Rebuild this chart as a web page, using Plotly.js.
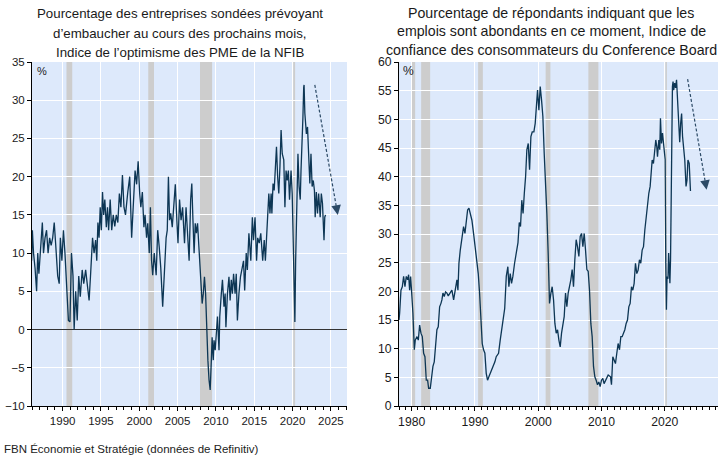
<!DOCTYPE html>
<html>
<head>
<meta charset="utf-8">
<script src="https://cdn.plot.ly/plotly-3.0.1.min.js"></script>
<style>
html,body{margin:0;padding:0;background:#fff;}
#chart{width:721px;height:456px;}
</style>
</head>
<body>
<div id="chart"></div>
<script>
// ---- NFIB hiring plans (% of firms) ----
const nfibDates = [1985.95,1986.05,1986.2,1986.4,1986.6,1986.75,1986.9,1987.1,1987.35,1987.5,1987.7,1987.9,1988.1,1988.3,1988.5,1988.7,1988.9,1989.1,1989.35,1989.55,1989.7,1989.9,
1990.1,1990.3,1990.5,1990.75,1990.95,1991.15,1991.35,1991.5,1991.7,1991.9,1992.1,1992.3,1992.55,1992.75,1993.0,1993.2,1993.45,1993.65,1993.9,
1994.1,1994.3,1994.45,1994.6,1994.75,1994.9,1995.05,1995.2,1995.35,1995.5,1995.7,1995.85,1996.0,1996.2,1996.4,1996.6,1996.8,1997.0,1997.2,1997.4,1997.6,1997.8,
1998.0,1998.2,1998.5,1998.75,1999.0,1999.2,1999.45,1999.65,1999.85,2000.05,2000.2,2000.4,2000.6,2000.75,2000.95,2001.1,2001.3,2001.45,2001.6,2001.75,2001.95,
2002.2,2002.4,2002.6,2002.8,2003.05,2003.25,2003.5,2003.65,2003.8,2003.95,2004.1,2004.3,2004.5,2004.7,2004.9,2005.05,2005.25,2005.45,2005.65,2005.9,
2006.1,2006.3,2006.5,2006.7,2006.85,2007.0,2007.15,2007.3,2007.45,2007.6,2007.8,2008.0,2008.2,2008.35,2008.5,2008.65,2008.8,2008.95,2009.1,2009.25,2009.4,2009.5,2009.65,2009.75,2009.9,
2010.05,2010.2,2010.4,2010.5,2010.7,2010.85,2011.05,2011.2,2011.3,2011.5,2011.7,2011.85,2012.0,2012.15,2012.3,2012.5,2012.65,2012.8,2013.0,2013.2,2013.45,2013.6,2013.75,2013.95,
2014.1,2014.3,2014.55,2014.75,2014.9,2015.1,2015.3,2015.45,2015.65,2015.85,2016.1,2016.3,2016.45,2016.6,2016.8,2016.9,2017.05,2017.2,2017.3,2017.45,2017.6,2017.75,2017.9,
2018.05,2018.2,2018.35,2018.5,2018.65,2018.85,2019.0,2019.15,2019.3,2019.45,2019.6,2019.8,2019.95,2020.15,2020.3,2020.4,2020.55,2020.7,2020.85,
2021.0,2021.1,2021.25,2021.35,2021.45,2021.5,2021.6,2021.8,2021.95,2022.1,2022.25,2022.4,2022.55,2022.7,2022.85,2022.95,2023.1,2023.25,2023.4,2023.6,2023.75,2023.9,2024.1,2024.2,2024.3];
const nfibValues = [9,13,10,8,5,10,7.3,11,14,10,12,13,10,12,11,12,14,11,7,6,12,9,
13,10,5.6,1.2,1,10,7,0,5,1.2,7,4.3,7.8,6,7.8,6,3.8,7.3,12,
10,11.7,9,14,12,16,13,18,15,17,13.4,16,13,17,13,15,13.5,15,14,17.8,16,20.2,
16,15,18,20,12,17,20.8,19,22,17.8,16,18,13.4,15,12,13.9,10,16,9,7.1,10,
7.1,13,10.8,8.1,3,8.1,12,13,20,14.3,15.2,13.4,17,19,14.3,11.3,17,14.3,16,11.3,
16,11.7,9,17,19.1,14.3,10,13.9,12.6,13.9,10.8,7.8,3.4,4.7,6.9,4.7,-0.5,-4,-6.6,-7.9,-4,-1,-4,-1.4,-2.7,
-1,1.7,-2.7,1.7,4.7,6.5,3,4.7,0.3,4.7,6.9,3.8,6.5,4.7,7.3,4.7,7.3,1.2,4.7,6.9,8.2,9,5.1,10,
7.8,12.6,9,14.7,11.7,14.7,9,12,11.3,12.6,9,11.7,9,11.7,15.2,17.8,15.2,17.8,15.2,19.1,18.2,22.2,23.9,
20,17.8,21.3,26.1,23,22.2,16,20.8,19.5,20.8,17,20.8,17.8,9,1,9,17.8,23,18.7,
17,20.8,24.3,27.8,31.7,32,28.3,25.6,26.5,22.6,19.1,23,18.7,19.5,18.2,14.7,18,15.2,17.8,14.7,17.8,16.5,11.7,14.7,15];

// ---- Conference Board "jobs plentiful" (% of respondents) ----
const cbDates = [1978.0,1978.1,1978.31,1978.52,1978.73,1978.94,1979.15,1979.36,1979.52,1979.68,1979.84,1980.0,1980.2,1980.42,1980.57,1980.84,1981.05,1981.26,1981.47,1981.68,1981.89,
1982.1,1982.31,1982.52,1982.68,1982.94,1983.15,1983.36,1983.57,1983.78,1983.99,1984.2,1984.42,1984.63,1984.78,1984.94,1985.15,1985.36,1985.57,1985.78,1986.1,1986.36,1986.63,1986.89,
1987.15,1987.31,1987.47,1987.68,1987.94,1988.2,1988.42,1988.63,1988.84,1989.05,1989.26,1989.52,1989.78,1990.05,1990.31,1990.52,1990.73,1990.94,1991.15,1991.36,1991.57,1991.78,1991.99,
1992.2,1992.41,1992.68,1992.94,1993.15,1993.36,1993.73,1993.99,1994.26,1994.45,1994.7,1994.95,1995.2,1995.36,1995.57,1995.78,1995.99,1996.26,1996.5,1996.8,1997.0,1997.2,1997.4,1997.6,1997.8,
1998.0,1998.2,1998.42,1998.63,1998.84,1999.05,1999.31,1999.52,1999.68,1999.89,2000.1,2000.31,2000.52,2000.73,2000.94,2001.15,2001.36,2001.57,2001.78,2002.0,2002.2,2002.42,2002.63,2002.84,
2003.05,2003.26,2003.47,2003.68,2003.89,2004.1,2004.31,2004.52,2004.73,2004.94,2005.15,2005.36,2005.57,2005.78,2005.99,2006.2,2006.42,2006.63,2006.84,2007.05,2007.26,2007.47,2007.68,2007.89,
2008.1,2008.31,2008.52,2008.73,2008.94,2009.15,2009.36,2009.57,2009.78,2009.99,2010.2,2010.4,2010.73,2011.05,2011.42,2011.57,2011.78,2012.0,2012.2,2012.41,2012.62,2012.84,
2013.05,2013.26,2013.47,2013.68,2013.89,2014.1,2014.31,2014.52,2014.73,2014.94,2015.15,2015.36,2015.57,2015.78,2015.99,2016.2,2016.42,2016.63,2016.84,2017.05,2017.26,2017.47,2017.68,2017.89,
2018.0,2018.2,2018.41,2018.57,2018.73,2018.84,2019.05,2019.2,2019.31,2019.47,2019.63,2019.78,2020.05,2020.15,2020.25,2020.35,2020.5,2020.6,2020.7,2020.8,2020.9,
2021.0,2021.1,2021.2,2021.3,2021.4,2021.55,2021.7,2021.85,2022.0,2022.15,2022.35,2022.5,2022.65,2022.8,2022.95,2023.15,2023.35,2023.5,2023.65,2023.85,2024.05];
const cbValues = [15,16.2,20.2,20.8,22.6,20.8,22.6,22,22.9,20.2,22.6,19.7,16.2,9.8,11.5,12.1,11.5,14.1,12.7,12.1,9.2,
8.6,4.5,4.5,3.1,3.1,5.1,6.9,7.7,10.3,13.3,13.8,17.3,17.9,18.5,19.7,19.1,19.9,19.7,19.2,19.9,20.2,18.5,20.5,
22,20.2,24.9,27.2,29,31.3,30.1,31.9,34.2,34.5,33.6,32.4,30.1,27.2,25.5,23.1,19.7,16.2,10.9,9.8,9.2,5.7,4.5,
5.1,5.7,6.3,6.9,7.7,8.6,9.2,11.5,13.8,15.5,17,22.6,24.3,20.8,23.1,21.4,22.6,24.9,26.5,28.5,32,31.3,35.9,33.6,37.1,
40,44.7,45.8,41.2,47,47.8,47.8,49.3,51.6,55.1,51.6,55.7,53.4,50.5,44.1,39.4,33.6,26.6,17.9,19.7,20.8,18.5,14.4,12.7,
13.3,11.5,10.3,12.7,14.4,15.6,19.7,17.3,19.7,20.8,22,23.8,20.8,25.5,29,27.8,26.1,29.6,30.1,27.8,30.1,27.2,23.8,23.5,
20.2,14.4,12.1,6.9,5.1,4.5,3.7,4.2,3.4,4.5,4.8,3.9,4.8,5.4,5.1,3.7,8.6,8,7.4,9.2,10.9,9.8,
12.1,12.1,12.7,13.3,14.4,15,17.3,17.9,20.8,20.2,21.4,24.9,23.1,23.7,25.5,24.9,27.2,27.8,30.7,33,34.8,37.1,38.3,40.6,
42.9,42.3,44.1,46.4,45.2,43.5,46.4,44.7,50.2,45.8,47.6,46.1,43,25,16.8,22.6,22.2,26.7,24.3,21.4,25.5,
37,49,55.7,56.6,55.1,56.3,55.5,56.9,54,50.5,46,49.3,51,47,45.2,42.9,38.3,39.4,42.9,42.3,37.5];

// ---- Recessions (start, end) ----
const recStart = [1980.0, 1981.5, 1990.5, 2001.17, 2007.92, 2020.08];
const recEnd   = [1980.55, 1982.92, 1991.25, 2001.92, 2009.5, 2020.33];

// ---- Arrows [x0, y0, x1, y1] ----
const arrowLeft  = [2022.9, 32, 2025.9, 15];
const arrowRight = [2023.6, 57, 2026.6, 37.7];

const titleLeft = ["Pourcentage des entreprises sondées prévoyant", "d’embaucher au cours des prochains mois,", "Indice de l’optimisme des PME de la NFIB"];
const titleRight = ["Pourcentage de répondants indiquant que les", "emplois sont abondants en ce moment, Indice de", "confiance des consommateurs du Conference Board"];
const sourceText = "FBN Économie et Stratégie (données de Refinitiv)";

const W = 721, H = 456;
const FONT = "Liberation Sans, Arial, sans-serif";
const lineColor = "#0d3654";
const arrowColor = "#2c4a66";
const xRangeL = [1986, 2027.1], xRangeR = [1978, 2028.4];

const traces = [
  {x: nfibDates, y: nfibValues, type: 'scatter', mode: 'lines', xaxis: 'x', yaxis: 'y',
   line: {color: lineColor, width: 1.3}, hoverinfo: 'skip'},
  {x: cbDates, y: cbValues, type: 'scatter', mode: 'lines', xaxis: 'x2', yaxis: 'y2',
   line: {color: lineColor, width: 1.3}, hoverinfo: 'skip'}
];

const shapes = [];
recStart.forEach((s, i) => {
  const e = recEnd[i];
  if (e > xRangeL[0] && s < xRangeL[1])
    shapes.push({type: 'rect', xref: 'x', yref: 'y domain', x0: s, x1: e, y0: 0, y1: 1,
      fillcolor: '#cdcdcd', line: {width: 0}, layer: 'below'});
  if (e > xRangeR[0] && s < xRangeR[1])
    shapes.push({type: 'rect', xref: 'x2', yref: 'y2 domain', x0: s, x1: e, y0: 0, y1: 1,
      fillcolor: '#cdcdcd', line: {width: 0}, layer: 'below'});
});

const annotations = [];
function addArrow(a, xr, yr) {
  const f = 0.93;
  const xm = a[0] + (a[2] - a[0]) * f, ym = a[1] + (a[3] - a[1]) * f;
  shapes.push({type: 'line', xref: xr, yref: yr, x0: a[0], y0: a[1], x1: xm, y1: ym,
    line: {color: arrowColor, width: 1.2, dash: '3px,2px'}, layer: 'above'});
  annotations.push({xref: xr, yref: yr, axref: xr, ayref: yr, x: a[2], y: a[3], ax: xm, ay: ym,
    text: '', showarrow: true, arrowhead: 2, arrowsize: 1.6, arrowwidth: 1.2, arrowcolor: arrowColor});
}
addArrow(arrowLeft, 'x', 'y');
addArrow(arrowRight, 'x2', 'y2');

function addTitle(lines, cx, size, y0, gap) {
  lines.forEach((t, i) => {
    annotations.push({xref: 'paper', yref: 'paper', x: cx / W, y: 1 - (y0 + gap * i) / H,
      xanchor: 'center', yanchor: 'middle', text: t, showarrow: false,
      font: {family: FONT, size: size, color: '#1a1a1a'}});
  });
}
addTitle(titleLeft, 180, 13.3, 14, 19);
addTitle(titleRight, 551, 14.2, 13, 18.5);

annotations.push({xref: 'paper', yref: 'paper', x: 35 / W, y: 1 - 71 / H, xanchor: 'left', yanchor: 'middle',
  text: '%', showarrow: false, font: {family: FONT, size: 11, color: '#222'}});
annotations.push({xref: 'paper', yref: 'paper', x: 401 / W, y: 1 - 71 / H, xanchor: 'left', yanchor: 'middle',
  text: '%', showarrow: false, font: {family: FONT, size: 12, color: '#222'}});
annotations.push({xref: 'paper', yref: 'paper', x: 2 / W, y: 1 - 449 / H, xanchor: 'left', yanchor: 'middle',
  text: sourceText, showarrow: false, font: {family: FONT, size: 11.5, color: '#222'}});

const tickFontL = {family: FONT, size: 11.5, color: '#1a1a1a'};
const tickFontR = {family: FONT, size: 12.2, color: '#1a1a1a'};
const yDom = [1 - 406 / H, 1 - 62 / H];
function xAxis(dom, range, dtick, anchor, tf) {
  return {domain: dom, range: range, anchor: anchor, tick0: 1990, dtick: dtick,
    showgrid: true, gridcolor: '#ffffff', gridwidth: 1, zeroline: false,
    showline: true, linecolor: '#000', linewidth: 1,
    ticks: 'outside', ticklen: 4, tickcolor: '#000', tickfont: tf,
    minor: {dtick: 1, ticks: 'outside', ticklen: 3, tickcolor: '#000', showgrid: false},
    fixedrange: true};
}
function yAxis(range, anchor, zl, tf) {
  return {domain: yDom, range: range, anchor: anchor, dtick: 5,
    showgrid: true, gridcolor: '#ffffff', gridwidth: 1,
    zeroline: zl, zerolinecolor: '#333', zerolinewidth: 1,
    showline: true, linecolor: '#000', linewidth: 1,
    ticks: 'outside', ticklen: 4, tickcolor: '#000', tickfont: tf, fixedrange: true};
}

const layout = {
  width: W, height: H,
  margin: {l: 0, r: 0, t: 0, b: 0},
  paper_bgcolor: '#ffffff', plot_bgcolor: '#dde9fb',
  showlegend: false,
  font: {family: FONT},
  xaxis: xAxis([32 / W, 347 / W], xRangeL, 5, 'y', tickFontL),
  yaxis: yAxis([-10, 35], 'x', true, tickFontL),
  xaxis2: xAxis([399 / W, 718 / W], xRangeR, 10, 'y2', tickFontR),
  yaxis2: yAxis([0, 60], 'x2', false, tickFontR),
  shapes: shapes,
  annotations: annotations
};

Plotly.newPlot('chart', traces, layout, {staticPlot: true, displayModeBar: false});
</script>
</body>
</html>
